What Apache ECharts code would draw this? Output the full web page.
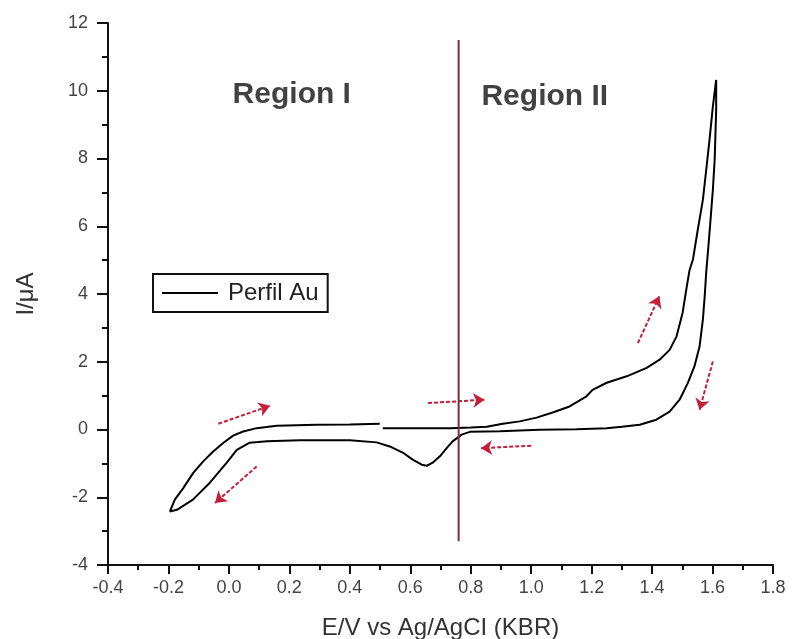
<!DOCTYPE html>
<html>
<head>
<meta charset="utf-8">
<script src="https://cdn.jsdelivr.net/npm/echarts@6/dist/echarts.min.js"></script>
<style>html,body{margin:0;padding:0;background:#fff}#c{width:793px;height:639px}</style>
</head>
<body>
<div id="c"></div>
<script>
// Anodic (forward) scan from 0.5 V to the upper vertex
const anodicE = [0.509,0.60,0.731,0.80,0.853,0.906,0.962,1.018,1.071,1.127,1.183,1.203,1.250,1.316,1.382,1.425,1.458,1.481,1.501,1.513,1.524,1.535,1.551,1.568,1.579,1.590,1.601,1.612];
const anodicI = [0.04,0.04,0.04,0.06,0.08,0.17,0.24,0.35,0.50,0.68,0.98,1.17,1.38,1.57,1.82,2.06,2.35,2.75,3.45,4.12,4.71,5.01,5.89,6.78,7.66,8.55,9.53,10.32];
// Cathodic (return) scan down to the lower vertex
const cathodicE = [1.617,1.612,1.607,1.601,1.590,1.579,1.574,1.568,1.557,1.540,1.518,1.491,1.458,1.414,1.359,1.30,1.249,1.15,1.028,0.896,0.797,0.770,0.740,0.721,0.698,0.674,0.655,0.638,0.608,0.575,0.532,0.489,0.400,0.235,0.126,0.069,0.026,-0.007,-0.063,-0.119,-0.172,-0.195,-0.200];
const cathodicI = [10.32,9.43,7.96,7.07,5.81,4.63,3.93,3.24,2.45,1.86,1.37,0.88,0.53,0.29,0.14,0.08,0.04,0.01,-0.01,-0.05,-0.07,-0.15,-0.35,-0.54,-0.79,-0.98,-1.07,-1.04,-0.89,-0.68,-0.50,-0.38,-0.32,-0.32,-0.35,-0.39,-0.60,-0.98,-1.57,-2.07,-2.37,-2.42,-2.45];
// Closing forward scan back to 0.5 V
const closingE = [-0.179,-0.151,-0.118,-0.085,-0.052,-0.019,0.014,0.047,0.092,0.158,0.290,0.40,0.499];
const closingI = [-2.07,-1.73,-1.28,-0.94,-0.65,-0.40,-0.18,-0.06,0.04,0.11,0.14,0.15,0.17];

// Region divider
const dividerE = 0.76;
const dividerI = [-3.3, 11.5];

// Region labels
const regionNames = ['Region I', 'Region II'];
const regionE = [0.208, 1.045];
const regionI = [9.88, 9.82];

// Scan-direction arrows: start and end points
const arrowStartE = [-0.035, 0.092, 0.659, 1.000, 1.353, 1.601];
const arrowStartI = [0.17, -1.09, 0.78, -0.48, 2.55, 2.01];
const arrowEndE   = [0.136, -0.046, 0.845, 0.834, 1.424, 1.557];
const arrowEndI   = [0.70, -2.17, 0.88, -0.55, 3.93, 0.58];

const seriesName = 'Perfil Au';
const xTitle = 'E/V vs Ag/AgCI (KBR)';
const yTitle = 'I/μA';

const pairs = (e, i) => e.map((v, k) => [v, i[k]]);
const curve = pairs(anodicE, anodicI).concat(pairs(cathodicE, cathodicI), pairs(closingE, closingI));
const arrows = arrowStartE.map((v, k) => ({coords: [[v, arrowStartI[k]], [arrowEndE[k], arrowEndI[k]]]}));

const FONT = 'Liberation Sans, Arial, sans-serif';
const chart = echarts.init(document.getElementById('c'), null, {renderer: 'canvas'});
chart.setOption({
  animation: false,
  backgroundColor: '#fff',
  grid: {left: 108, right: 20, top: 23, bottom: 74, containLabel: false, outerBoundsMode: 'none'},
  legend: {
    data: [{name: seriesName, icon: 'rect'}],
    left: 153, top: 274,
    orient: 'horizontal',
    itemWidth: 56, itemHeight: 2,
    padding: [7, 9, 7, 9],
    borderColor: '#111', borderWidth: 2,
    textStyle: {fontFamily: FONT, fontSize: 24, color: '#222', padding: [0, 0, 0, 5]}
  },
  xAxis: {
    type: 'value', min: -0.4, max: 1.8, interval: 0.2,
    name: xTitle, nameLocation: 'middle', nameGap: 51,
    nameTextStyle: {fontFamily: FONT, fontSize: 24, color: '#333'},
    axisLine: {show: true, onZero: false, lineStyle: {color: '#111', width: 2}},
    axisTick: {show: true, inside: false, length: 9, lineStyle: {color: '#111', width: 2}},
    minorTick: {show: true, splitNumber: 2, length: 5, lineStyle: {color: '#111', width: 2}},
    axisLabel: {fontFamily: FONT, fontSize: 18, color: '#444', margin: 14, formatter: v => v.toFixed(1)},
    splitLine: {show: false}
  },
  yAxis: {
    type: 'value', min: -4, max: 12, interval: 2,
    name: yTitle, nameLocation: 'middle', nameGap: 70,
    nameTextStyle: {fontFamily: FONT, fontSize: 24, color: '#333'},
    axisLine: {show: true, onZero: false, lineStyle: {color: '#111', width: 2}},
    axisTick: {show: true, inside: false, length: 11, lineStyle: {color: '#111', width: 2}},
    minorTick: {show: true, splitNumber: 2, length: 6, lineStyle: {color: '#111', width: 2}},
    axisLabel: {fontFamily: FONT, fontSize: 18, color: '#444', margin: 20},
    splitLine: {show: false}
  },
  series: [
    {
      name: seriesName, type: 'line', data: curve,
      showSymbol: false, symbol: 'none', smooth: false,
      color: '#000',
      lineStyle: {color: '#000', width: 2}
    },
    {
      name: 'divider', type: 'line',
      data: dividerI.map(v => [dividerE, v]),
      showSymbol: false, symbol: 'none',
      lineStyle: {color: '#7a2f3c', width: 2}
    },
    {
      name: 'regions', type: 'scatter', symbolSize: 0,
      data: regionNames.map((n, k) => ({name: n, value: [regionE[k], regionI[k]]})),
      label: {show: true, position: 'inside', formatter: p => p.name,
        fontFamily: FONT, fontSize: 30, fontWeight: 'bold', color: '#111'}
    },
    {
      name: 'arrows', type: 'lines', coordinateSystem: 'cartesian2d',
      data: arrows,
      symbol: ['none', 'arrow'], symbolSize: 11,
      lineStyle: {color: '#c41e3a', width: 2, type: [4, 2], opacity: 1, curveness: 0}
    }
  ]
});
</script>
</body>
</html>
